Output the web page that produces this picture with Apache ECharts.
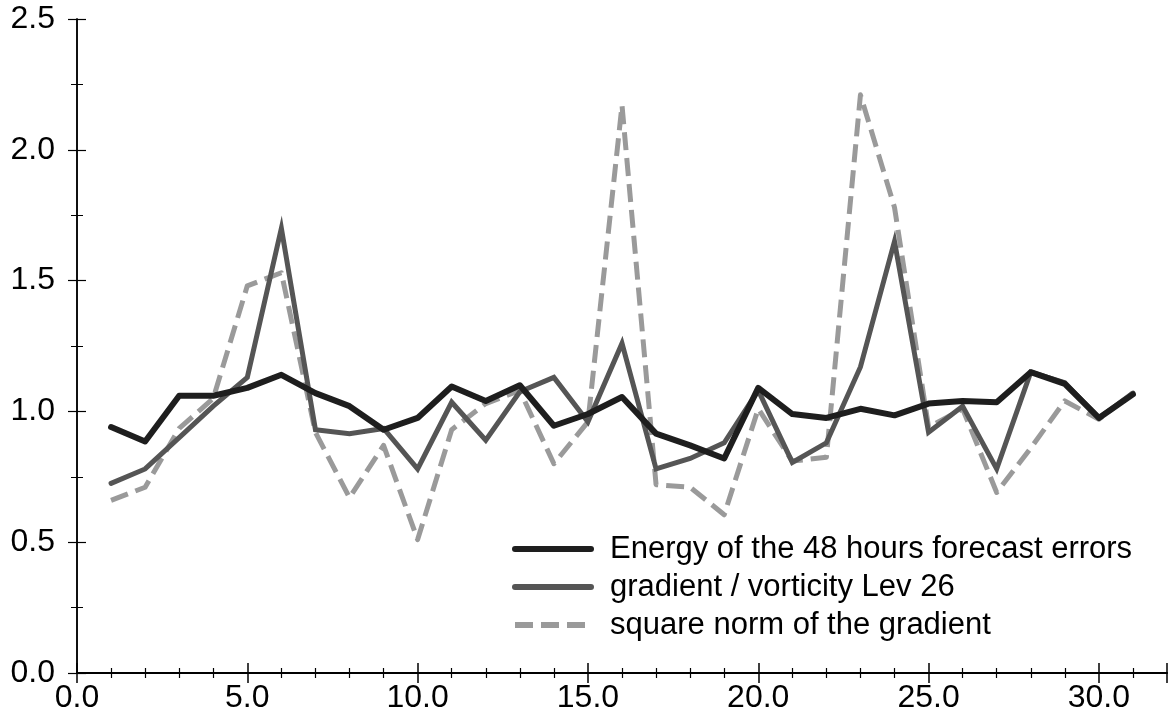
<!DOCTYPE html>
<html>
<head>
<meta charset="utf-8">
<script src="https://cdn.jsdelivr.net/npm/echarts@6/dist/echarts.min.js"></script>
<style>
html,body{margin:0;padding:0;background:#fff;}
#chart{width:1170px;height:717px;}
</style>
</head>
<body>
<div id="chart"></div>
<script>
const days = [1,2,3,4,5,6,7,8,9,10,11,12,13,14,15,16,17,18,19,20,21,22,23,24,25,26,27,28,29,30,31];
const energyErrors = [0.94,0.885,1.06,1.06,1.09,1.14,1.07,1.02,0.93,0.975,1.095,1.04,1.10,0.945,0.99,1.055,0.915,0.87,0.82,1.09,0.99,0.975,1.01,0.985,1.03,1.04,1.035,1.15,1.105,0.975,1.065];
const gradVorticity = [0.725,0.78,0.90,1.02,1.13,1.70,0.93,0.915,0.935,0.78,1.035,0.89,1.075,1.13,0.96,1.26,0.78,0.82,0.88,1.08,0.805,0.88,1.17,1.65,0.92,1.02,0.78,1.15,1.11,0.975,1.07];
const squareNorm = [0.66,0.71,0.935,1.05,1.48,1.53,0.92,0.67,0.87,0.51,0.93,1.03,1.08,0.80,0.96,2.17,0.72,0.71,0.605,1.01,0.81,0.825,2.21,1.78,0.94,1.01,0.69,0.86,1.04,0.97,1.07];
const seriesNames = ['Energy of the 48 hours forecast errors','gradient / vorticity Lev 26','square norm of the gradient'];

const FONT = '"Liberation Sans", Arial, Helvetica, sans-serif';
const pairs = arr => days.map((d,i)=>[d,arr[i]]);
const COLORS = ['#1e1e1e','#555555','#9a9a9a'];
const DASHES = ['solid','solid',[18,8]];

const chart = echarts.init(document.getElementById('chart'), null, {renderer:'canvas'});
const axisLine = {show:true, lineStyle:{color:'#000', width:1.5}};
chart.setOption({
  animation:false,
  backgroundColor:'#fff',
  grid:{left:77, right:3, top:19, bottom:44, containLabel:false},
  legend:{
    orient:'vertical', left:512, top:530, itemGap:0, padding:0,
    itemWidth:76, itemHeight:6,
    textStyle:{fontFamily:FONT, fontSize:31, color:'#000', lineHeight:38, padding:[0,0,0,14]},
    data:seriesNames.map((n,i)=>({
      name:n,
      itemStyle:{opacity:0},
      lineStyle:{width:6, color:COLORS[i], type:DASHES[i]}
    }))
  },
  xAxis:[{
    type:'value', min:0, max:32, interval:5, position:'bottom',
    axisLine:axisLine,
    axisTick:{show:true, inside:true, length:10, lineStyle:{color:'#000', width:1.5}},
    minorTick:{show:true, splitNumber:5, length:5, lineStyle:{color:'#000', width:1.2}},
    splitLine:{show:false},
    axisLabel:{fontFamily:FONT, fontSize:32, color:'#000', margin:9,
      formatter:v => (v % 5 === 0 && v <= 30) ? v.toFixed(1) : ''}
  },{
    type:'value', min:0, max:32, interval:5, position:'top',
    axisLine:{show:true, lineStyle:{color:'#000', width:2}},
    axisTick:{show:true, inside:true, length:10, lineStyle:{color:'#000', width:1.5}},
    minorTick:{show:true, splitNumber:5, length:5, lineStyle:{color:'#000', width:1.2}},
    splitLine:{show:false}, axisLabel:{show:false}
  }],
  yAxis:[{
    type:'value', min:0, max:2.5, interval:0.5, position:'left',
    axisLine:axisLine,
    axisTick:{show:true, inside:true, length:9, lineStyle:{color:'#000', width:1.2}},
    minorTick:{show:true, splitNumber:2, length:6, lineStyle:{color:'#000', width:1}},
    splitLine:{show:false},
    axisLabel:{fontFamily:FONT, fontSize:32, color:'#000', margin:22,
      formatter:v => v.toFixed(1)}
  },{
    type:'value', min:0, max:2.5, interval:0.5, position:'right',
    axisLine:{show:true, lineStyle:{color:'#000', width:1.5}},
    axisTick:{show:true, inside:true, length:9, lineStyle:{color:'#000', width:1.2}},
    minorTick:{show:true, splitNumber:2, length:6, lineStyle:{color:'#000', width:1}},
    splitLine:{show:false}, axisLabel:{show:false}
  }],
  series:[
    {name:seriesNames[0], type:'line', data:pairs(energyErrors), showSymbol:false, symbol:'none',
     color:COLORS[0], lineStyle:{color:COLORS[0], width:6, join:'round', cap:'round'}, z:3},
    {name:seriesNames[1], type:'line', data:pairs(gradVorticity), showSymbol:false, symbol:'none',
     color:COLORS[1], lineStyle:{color:COLORS[1], width:5, join:'miter', cap:'round'}, z:2},
    {name:seriesNames[2], type:'line', data:pairs(squareNorm), showSymbol:false, symbol:'none',
     color:COLORS[2], lineStyle:{color:COLORS[2], width:5, type:DASHES[2], join:'round'}, z:1}
  ]
});
</script>
</body>
</html>
